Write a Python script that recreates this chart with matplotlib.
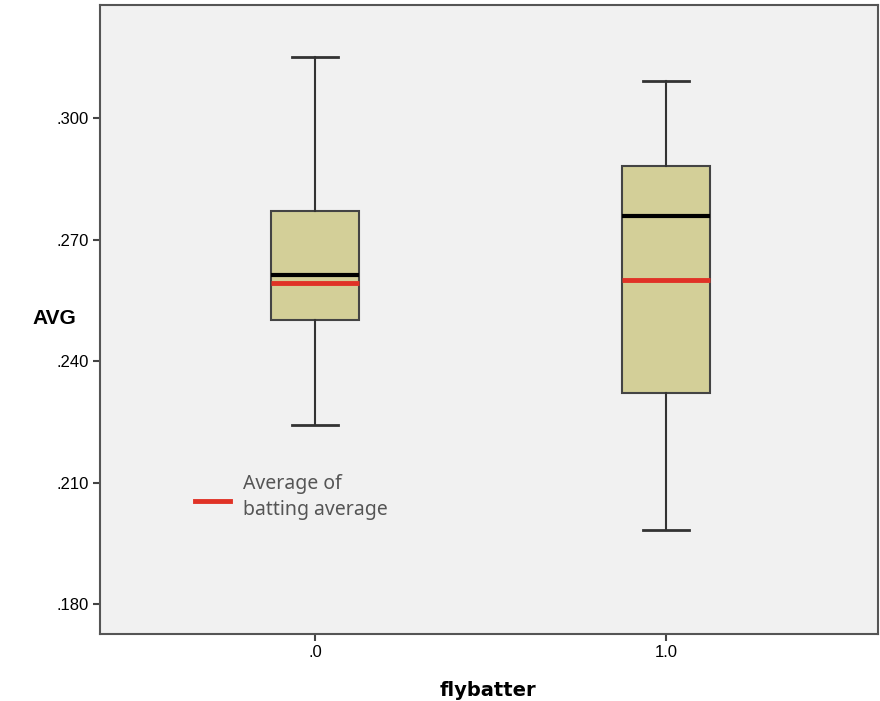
import matplotlib.pyplot as plt

# values
groups = [".0", "1.0"]
whisker_low = [0.2242, 0.1983]
q1 = [0.2501, 0.2321]
medians = [0.2612, 0.2758]
q3 = [0.2770, 0.2881]
whisker_high = [0.3151, 0.3091]
means = [0.2593, 0.2600]

yticks = [0.180, 0.210, 0.240, 0.270, 0.300]
ytick_labels = [".180", ".210", ".240", ".270", ".300"]

fig = plt.figure(figsize=(8.8, 7.01), dpi=100)
ax = fig.add_axes([100/880, 67/701, 778/880, 629/701])
ax.set_facecolor("#f1f1f1")

stats = []
for i in range(len(groups)):
    stats.append(dict(med=medians[i], q1=q1[i], q3=q3[i],
                      whislo=whisker_low[i], whishi=whisker_high[i],
                      fliers=[], label=groups[i]))

pos = list(range(len(groups)))
ax.bxp(stats, positions=pos, widths=0.248, patch_artist=True, showfliers=False,
       boxprops=dict(facecolor="#d3cf98", edgecolor="#444444", linewidth=1.5),
       medianprops=dict(color="black", linewidth=3),
       whiskerprops=dict(color="#333333", linewidth=1.5),
       capprops=dict(color="#333333", linewidth=2),
       capwidths=0.13)

# means drawn as red bars across the boxes
for p, m in zip(pos, means):
    ax.hlines(m, p - 0.124, p + 0.124, color="#e03226", linewidth=3.5, zorder=5)

ax.set_xlim(-0.6125, 1.604)
ax.set_ylim(0.1726, 0.3279)
ax.set_xticks(pos)
ax.set_xticklabels(groups, fontsize=12, family="Liberation Sans")
ax.set_yticks(yticks)
ax.set_yticklabels(ytick_labels, fontsize=12, family="Liberation Sans")
ax.tick_params(direction="out", length=5, width=1.5, color="#444444", pad=3)

for s in ax.spines.values():
    s.set_color("#555555")
    s.set_linewidth(1.5)

fig.text(54/880, 1 - 318/701, "AVG", fontsize=15, fontweight="bold",
         family="Liberation Sans", ha="center", va="center")
fig.text(488/880, 1 - 690/701, "flybatter", fontsize=14, fontweight="bold",
         ha="center", va="center")

# legend entry for the mean lines
ax.plot([-0.342, -0.242], [0.2055, 0.2055], color="#e03226", linewidth=3.5)
ax.text(-0.205, 0.2064, "Average of\nbatting average", fontsize=14,
        family="Noto Sans", color="#555555", va="center", linespacing=1.35)

fig.savefig("out.png", dpi=100)
